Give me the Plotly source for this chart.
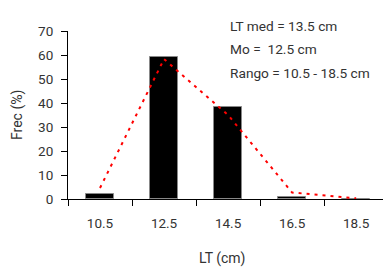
import plotly.graph_objects as go

categories = ["10.5", "12.5", "14.5", "16.5", "18.5"]
bar_values = [2.0, 59.0, 38.5, 0.8, 0.0]
line_values = [4.6, 58.3, 35.0, 2.7, 0.3]
y_ticks = [0, 10, 20, 30, 40, 50, 60, 70]
stats_lines = ["LT med = 13.5 cm", "Mo =  12.5 cm", "Rango = 10.5 - 18.5 cm"]

FONT = "Roboto"
TXT = "#333333"
W, H = 383, 267
L, R, T, B = 68, 0, 31, 68

fig = go.Figure()
fig.add_trace(go.Bar(
    x=categories, y=bar_values, width=0.43,
    marker=dict(color="black", line=dict(color="#888888", width=1)),
    showlegend=False,
))
fig.add_trace(go.Scatter(
    x=categories, y=line_values, mode="lines",
    line=dict(color="red", width=2, dash="3px,5px"),
    showlegend=False, cliponaxis=False,
))

fig.update_layout(
    width=W, height=H,
    margin=dict(l=L, r=R, t=T, b=B, pad=0),
    plot_bgcolor="white", paper_bgcolor="white",
    font=dict(family=FONT, size=13.5, color=TXT),
    bargap=0,
)
fig.update_xaxes(
    type="category", range=[-0.5, 4.42],
    showline=True, linecolor="black", linewidth=1,
    ticks="outside", tickson="boundaries", ticklen=6, tickcolor="black",
    ticklabelstandoff=12, showgrid=False, zeroline=False,
)
fig.update_yaxes(
    range=[0, 70], tickvals=y_ticks,
    showline=True, linecolor="black", linewidth=1,
    ticks="outside", ticklen=6, tickcolor="black",
    ticklabelstandoff=5, showgrid=False, zeroline=False,
)

anns = []
for i, s in enumerate(stats_lines):
    anns.append(dict(text=s, xref="paper", yref="paper", x=(228 - L) / (W - L - R),
                     y=1 - (26 + 23.3 * i - T) / (H - T - B),
                     xanchor="left", yanchor="middle", showarrow=False,
                     font=dict(family=FONT, size=13.7, color=TXT)))
anns.append(dict(text="LT (cm)", xref="paper", yref="paper",
                 x=(222 - L) / (W - L - R), y=-(258 - (H - B)) / (H - T - B),
                 xanchor="center", yanchor="middle", showarrow=False,
                 font=dict(family=FONT, size=14, color=TXT)))
anns.append(dict(text="Frec (%)", xref="paper", yref="paper",
                 x=-(L - 17) / (W - L - R), y=0.5, textangle=-90,
                 xanchor="center", yanchor="middle", showarrow=False,
                 font=dict(family=FONT, size=14, color=TXT)))
fig.update_layout(annotations=anns)

fig.write_html("out.html", config={"displayModeBar": False},
               post_script="document.body.style.margin='0';document.body.style.overflow='hidden';")
